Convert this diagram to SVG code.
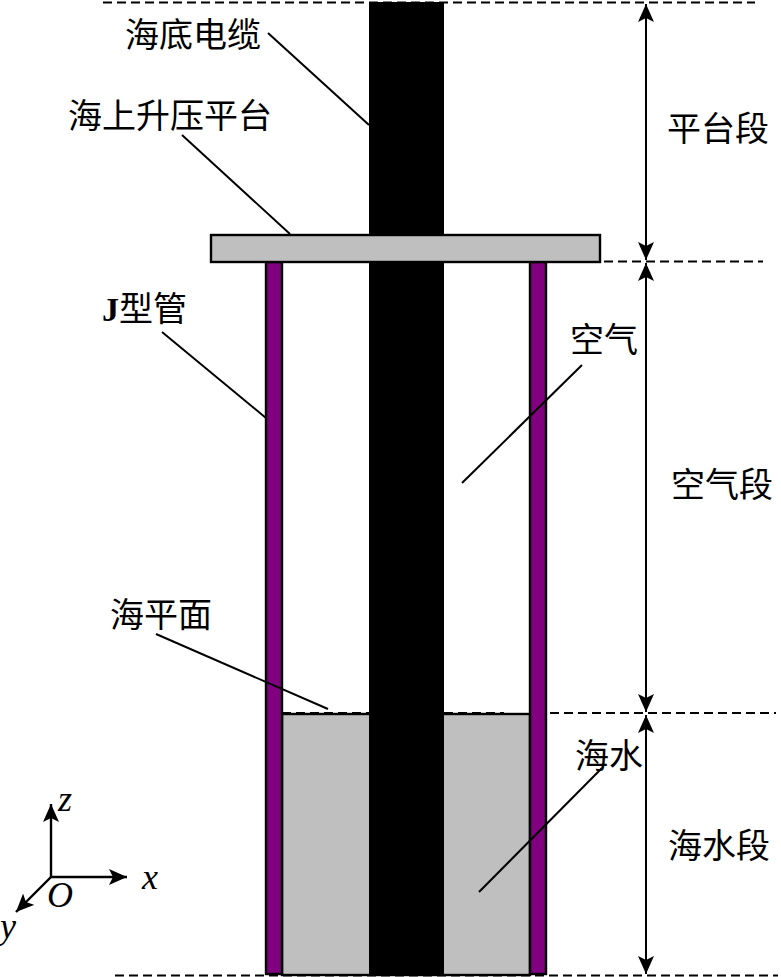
<svg xmlns="http://www.w3.org/2000/svg" width="781" height="977" viewBox="0 0 781 977">
<style>
.edge{stroke:#000;stroke-width:2.4;fill:none}
.thin{stroke:#000;stroke-width:2;fill:none}
.dash{stroke:#000;stroke-width:1.8;stroke-dasharray:9 5;fill:none}
.pipe{fill:#800080;stroke:#000;stroke-width:2.4}
.grey{fill:#bfbfbf;stroke:#000;stroke-width:2.4}
.cjk{font-family:"Noto Sans CJK SC","Liberation Serif",serif;font-size:34px;fill:#000}
.it{font-family:"Liberation Serif",serif;font-style:italic;font-size:36px;fill:#000}
</style>
<defs>
<marker id="head" markerUnits="userSpaceOnUse" markerWidth="20" markerHeight="18" refX="18" refY="8" orient="auto-start-reverse">
<path d="M0 0L18 8L0 16L4 8Z" fill="#000"/>
</marker>
</defs>
<rect width="781" height="977" fill="#fff"/>
<g id="seawater"><rect class="grey" x="282" y="714" width="248" height="261"/></g>
<g id="cable"><rect x="369" y="2" width="75" height="973" fill="#000"/></g>
<g id="j-tube-left"><rect class="pipe" x="266" y="262" width="16" height="712"/></g>
<g id="j-tube-right"><rect class="pipe" x="530" y="262" width="16" height="712"/></g>
<g id="platform"><rect class="grey" x="211" y="235" width="389" height="27"/></g>
<g id="connectors">
<path class="dash" d="M103 2.500H755"/>
<path class="dash" d="M604 261.500H763"/>
<path class="dash" d="M282 713H369M444 713H504M550 713H776"/>
<path class="dash" d="M115 975.500H778"/>
<path class="thin" d="M646 4V260" marker-start="url(#head)" marker-end="url(#head)"/>
<path class="thin" d="M646 263V712" marker-start="url(#head)" marker-end="url(#head)"/>
<path class="thin" d="M646 715V974" marker-start="url(#head)" marker-end="url(#head)"/>
<path class="thin" d="M268 33L369 125"/>
<path class="thin" d="M182 135L290 234"/>
<path class="thin" d="M162 332L266 418"/>
<path class="thin" d="M582 365L462 483"/>
<path class="thin" d="M156 634L328 709"/>
<path class="thin" d="M602 768L479 892"/>
<path class="edge" d="M51 877V804" marker-end="url(#head)"/>
<path class="edge" d="M51 877H127" marker-end="url(#head)"/>
<path class="edge" d="M51 877L16 912" marker-end="url(#head)"/>
</g>
<g id="labels">
<text class="cjk" x="125" y="47">海底电缆</text>
<text class="cjk" x="68" y="128">海上升压平台</text>
<text class="cjk" x="102" y="321"><tspan font-family="Liberation Serif" font-weight="bold">J</tspan>型管</text>
<text class="cjk" x="570" y="352">空气</text>
<text class="cjk" x="110" y="627">海平面</text>
<text class="cjk" x="575" y="768">海水</text>
<text class="cjk" x="667" y="141">平台段</text>
<text class="cjk" x="671" y="497">空气段</text>
<text class="cjk" x="668" y="858">海水段</text>
<text class="it" x="58" y="811">z</text>
<text class="it" x="142" y="889">x</text>
<text class="it" x="47" y="907">O</text>
<text class="it" x="0" y="938">y</text>
</g>
</svg>
